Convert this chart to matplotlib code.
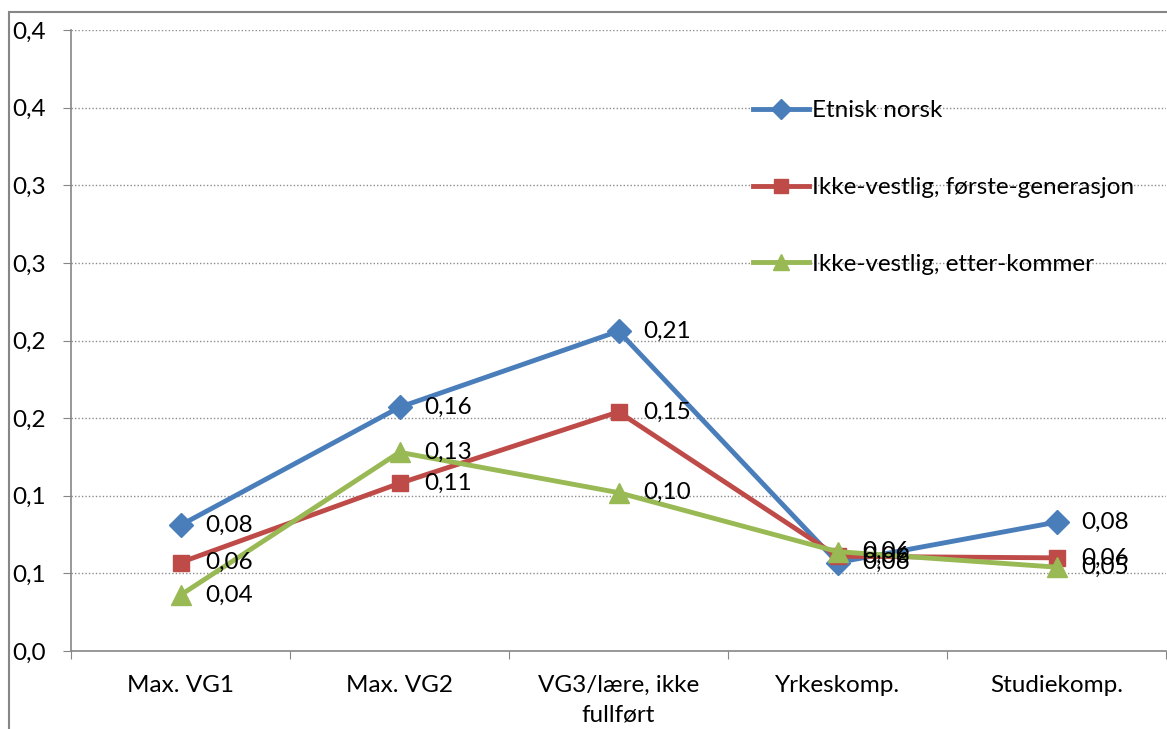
import matplotlib
matplotlib.use('Agg')
import matplotlib.pyplot as plt
from matplotlib.patches import Rectangle

categories = ['Max. VG1', 'Max. VG2', 'VG3/lære, ikke\nfullført', 'Yrkeskomp.', 'Studiekomp.']
etnisk_norsk = [0.081, 0.157, 0.206, 0.057, 0.083]
forste_gen = [0.057, 0.108, 0.154, 0.061, 0.060]
etterkommer = [0.036, 0.128, 0.102, 0.064, 0.054]
series_names = ['Etnisk norsk', 'Ikke-vestlig, første-generasjon', 'Ikke-vestlig, etter-kommer']
y_ticks = [0.0, 0.05, 0.10, 0.15, 0.20, 0.25, 0.30, 0.35, 0.40]
y_ticklabels = ['0,0', '0,1', '0,1', '0,2', '0,2', '0,3', '0,3', '0,4', '0,4']

plt.rcParams['font.family'] = ['Lato', 'DejaVu Sans']
FS = 17.5
W, H = 1167, 729
fig = plt.figure(figsize=(W / 100, H / 100), dpi=100)
ax = fig.add_axes([71 / W, 1 - 651 / H, 1095 / W, 621 / H])

# chart border (cropped outer frame)
fig.patches.append(Rectangle((9 / W, -0.1), 1.2, 1 - 12 / H + 0.1, transform=fig.transFigure,
                             fill=False, ec='#868686', lw=1.5))

styles = [('#4A7EBB', 'D', 12.5), ('#BE4B48', 's', 12), ('#98B954', '^', 14)]
x = list(range(len(categories)))
for vals, name, (col, mk, ms) in zip([etnisk_norsk, forste_gen, etterkommer], series_names, styles):
    ax.plot(x, vals, color=col, lw=3.5, marker=mk, ms=ms, label=name, zorder=3)
    for xi, v in zip(x, vals):
        ax.annotate(f'{v:.2f}'.replace('.', ','), (xi, v), xytext=(18, 0), textcoords='offset points',
                    va='center', ha='left', fontsize=FS, zorder=4)

ax.set_xlim(-0.5, len(categories) - 0.5)
ax.set_ylim(0, 0.4)
ax.set_yticks(y_ticks)
ax.set_yticklabels(y_ticklabels)
ax.set_xticks([i - 0.5 for i in range(len(categories) + 1)])
ax.set_xticklabels([])
ax.set_xticks(x, minor=True)
ax.set_xticklabels(categories, minor=True, linespacing=1.5)
ax.tick_params(axis='x', which='minor', length=0, pad=17, labelsize=FS)
ax.tick_params(axis='x', which='major', length=6, color='#868686', direction='out')
ax.tick_params(axis='y', length=6, color='#868686', direction='out', pad=12, labelsize=FS)
for t in y_ticks[1:]:
    ax.axhline(t, color='#8c8c8c', ls=(0, (1, 1.5)), lw=1, zorder=1)
for s in ['top', 'right']:
    ax.spines[s].set_visible(False)
for s in ['left', 'bottom']:
    ax.spines[s].set_color('#868686')
    ax.spines[s].set_linewidth(1.2)

ax.legend(loc='upper left', bbox_to_anchor=(670 / 1095, 1 - 58 / 621), frameon=False, fontsize=FS,
          handlelength=2.3, handletextpad=0.12, labelspacing=2.3, borderpad=0, markerscale=0.85)

fig.savefig('out.png', dpi=100)
